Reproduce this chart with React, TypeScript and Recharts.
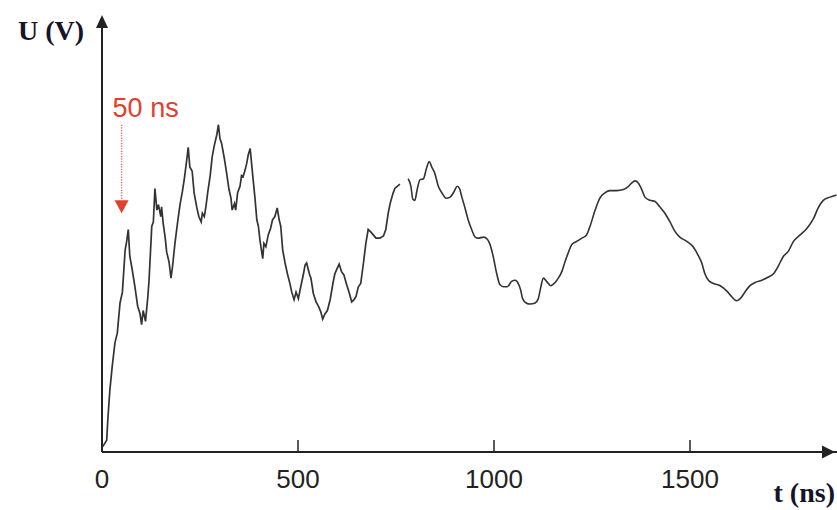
import React from 'react';
import { LineChart, Line, XAxis, YAxis, ReferenceLine, ReferenceDot } from 'recharts';

// Early, fast-sampled part of the trace (ns / V)
const noisyTimes = [
  2, 12, 15, 20, 26, 33, 39, 46, 52, 59,
  63, 67, 71, 77, 84, 91, 97, 101, 105, 111,
  117, 120, 127, 131, 135, 140, 144, 150, 152, 156,
  161, 165, 171, 176, 180, 186, 193, 199, 205, 210,
  216, 220, 224, 230, 235, 242, 247, 253, 256, 261,
  265, 270, 276, 281, 286, 293, 297, 301, 305, 312,
  318, 324, 329, 332, 338, 341, 346, 352, 356, 360,
  365, 369, 373, 378, 384, 390, 395, 399, 403, 410,
  413, 418, 424, 430, 435, 441, 447, 452, 456, 461,
  467, 473, 480, 484, 490, 495, 501, 507, 514, 518,
  522, 529, 533, 539, 546, 552, 558, 563, 569, 575,
  582, 589, 594, 600, 605, 611, 617, 624, 631, 637,
  643, 648, 654, 660, 667, 673, 679, 685, 692, 699,
  709, 718, 724, 730, 735, 742, 747, 753, 760,
];
const noisyVolts = [
  0.05, 0.11, 0.31, 0.57, 0.79, 1.01, 1.10, 1.38, 1.48, 1.87,
  1.95, 2.06, 1.81, 1.69, 1.53, 1.35, 1.28, 1.18, 1.31, 1.21,
  1.44, 1.59, 2.09, 2.13, 2.44, 2.24, 2.29, 2.18, 2.27, 2.12,
  1.99, 1.85, 1.76, 1.61, 1.72, 1.93, 2.13, 2.29, 2.41, 2.53,
  2.70, 2.82, 2.64, 2.60, 2.40, 2.26, 2.18, 2.13, 2.21, 2.18,
  2.27, 2.41, 2.56, 2.73, 2.83, 2.94, 3.03, 2.90, 2.86, 2.72,
  2.58, 2.43, 2.35, 2.24, 2.30, 2.24, 2.40, 2.46, 2.56, 2.55,
  2.61, 2.67, 2.75, 2.81, 2.58, 2.36, 2.15, 2.09, 1.96, 1.79,
  1.93, 1.90, 2.01, 2.07, 2.15, 2.18, 2.26, 2.15, 2.09, 1.87,
  1.75, 1.65, 1.55, 1.48, 1.41, 1.48, 1.42, 1.53, 1.65, 1.73,
  1.75, 1.65, 1.61, 1.47, 1.39, 1.35, 1.30, 1.23, 1.28, 1.31,
  1.41, 1.56, 1.65, 1.70, 1.74, 1.67, 1.64, 1.55, 1.47, 1.39,
  1.41, 1.44, 1.53, 1.56, 1.75, 1.93, 2.06, 2.04, 2.01, 1.98,
  1.98, 2.00, 2.06, 2.21, 2.30, 2.39, 2.44, 2.46, 2.48,
];

// Later, slower-sampled part of the trace (ns / V)
const smoothTimes = [
  781, 788, 793, 798, 804, 811, 820, 828, 835, 841,
  849, 858, 867, 878, 888, 898, 906, 912, 918, 926,
  934, 943, 952, 960, 973, 983, 990, 998, 1007, 1015,
  1024, 1034, 1045, 1054, 1062, 1068, 1073, 1082, 1092, 1105,
  1113, 1119, 1126, 1134, 1145, 1156, 1164, 1173, 1181, 1190,
  1198, 1211, 1224, 1236, 1245, 1258, 1270, 1283, 1296, 1313,
  1330, 1343, 1351, 1360, 1368, 1377, 1385, 1398, 1411, 1423,
  1436, 1449, 1462, 1474, 1492, 1508, 1521, 1530, 1538, 1547,
  1560, 1577, 1594, 1606, 1619, 1628, 1640, 1653, 1666, 1683,
  1700, 1713, 1725, 1738, 1751, 1764, 1781, 1798, 1815, 1827,
  1840, 1857, 1874,
];
const smoothVolts = [
  2.53, 2.46, 2.34, 2.33, 2.43, 2.52, 2.53, 2.63, 2.69, 2.64,
  2.58, 2.46, 2.40, 2.35, 2.36, 2.41, 2.46, 2.44, 2.36, 2.26,
  2.15, 2.06, 1.99, 1.98, 1.99, 1.97, 1.92, 1.81, 1.65, 1.55,
  1.53, 1.53, 1.58, 1.59, 1.56, 1.50, 1.42, 1.38, 1.37, 1.38,
  1.42, 1.52, 1.61, 1.58, 1.54, 1.57, 1.61, 1.67, 1.76, 1.85,
  1.92, 1.95, 1.98, 2.01, 2.09, 2.24, 2.35, 2.40, 2.42, 2.42,
  2.43, 2.46, 2.49, 2.51, 2.49, 2.43, 2.36, 2.33, 2.32, 2.27,
  2.21, 2.13, 2.04, 1.99, 1.95, 1.90, 1.82, 1.75, 1.65, 1.59,
  1.56, 1.54, 1.49, 1.44, 1.40, 1.42, 1.48, 1.54, 1.57, 1.59,
  1.62, 1.65, 1.72, 1.81, 1.86, 1.95, 2.01, 2.07, 2.16, 2.26,
  2.33, 2.36, 2.38,
];

const timeTicks = [0, 500, 1000, 1500];
const voltTicks = [1, 2, 3];

// Annotation: first peak after the rise
const markerTime = 50;
const markerText = '50 ns';
const markerLineTop = 3.03;
const markerLineBottom = 2.33;
const markerHead = 2.27;
const markerTextLevel = 3.106;

const T_MAX = 1875;
const U_MAX = 4;

type Row = { t: number; a?: number | null; b?: number | null };

const data: Row[] = [
  ...noisyTimes.map((t, i) => ({ t, a: noisyVolts[i], b: null })),
  ...smoothTimes.map((t, i) => ({ t, a: null, b: smoothVolts[i] })),
];

const AXIS = '#222';
const TRACE = '#333';
const RED = '#e2402c';
const serif = '"Liberation Serif", "Times New Roman", serif';
const sans = '"Liberation Sans", Arial, sans-serif';

const UpArrow = (p: any) => (
  <polygon points={`${p.cx},${p.cy - 5} ${p.cx - 6},${p.cy + 8} ${p.cx + 6},${p.cy + 8}`} fill={AXIS} />
);
const RightArrow = (p: any) => (
  <polygon points={`${p.cx - 2},${p.cy} ${p.cx - 15},${p.cy - 6.5} ${p.cx - 15},${p.cy + 6.5}`} fill={AXIS} />
);
const DownMarker = (p: any) => (
  <polygon points={`${p.cx - 7},${p.cy - 6.5} ${p.cx + 7},${p.cy - 6.5} ${p.cx},${p.cy + 6.5}`} fill={RED} />
);
const MarkerLabel = (p: any) => (
  <text x={p.cx - 9} y={p.cy} fill={RED} fontFamily={sans} fontSize={27}>
    {markerText}
  </text>
);

const YTitle = (props: any) => {
  const vb = props.viewBox || { x: 42, y: 20, width: 60 };
  return (
    <text x={vb.x + vb.width - 18} y={vb.y + 20} textAnchor="end" fontFamily={serif} fontWeight="bold" fontSize={28} fill="#14142a">
      U (V)
    </text>
  );
};
const XTitle = (props: any) => {
  const vb = props.viewBox || { x: 102, y: 452, width: 735 };
  return (
    <text x={vb.x + vb.width - 2} y={vb.y + 50} textAnchor="end" fontFamily={serif} fontWeight="bold" fontSize={28} fill="#14142a">
      t (ns)
    </text>
  );
};

export default function App() {
  return (
    <div style={{ position: 'absolute', left: 0, top: 0, width: 837, height: 510, background: '#fff' }}>
      <LineChart width={837} height={510} data={data} margin={{ top: 20, right: 0, bottom: 28, left: 42 }}>
        <XAxis
          dataKey="t"
          type="number"
          domain={[0, T_MAX]}
          ticks={timeTicks}
          interval={0}
          height={30}
          allowDataOverflow
          axisLine={{ stroke: AXIS, strokeWidth: 2 }}
          tickLine={{ stroke: AXIS, strokeWidth: 1.5 }}
          tickSize={-12}
          tickMargin={30}
          tick={{ fill: '#222', fontFamily: sans, fontSize: 26 }}
          label={{ content: XTitle }}
        />
        <YAxis
          type="number"
          domain={[0, U_MAX]}
          ticks={voltTicks}
          width={60}
          allowDataOverflow
          axisLine={{ stroke: AXIS, strokeWidth: 2 }}
          tickLine={{ stroke: AXIS, strokeWidth: 1.5 }}
          tickSize={-5}
          tick={false}
          label={{ content: YTitle }}
        />
        <ReferenceDot x={0} y={U_MAX} ifOverflow="visible" shape={UpArrow} />
        <ReferenceDot x={T_MAX} y={0} ifOverflow="visible" shape={RightArrow} />
        <Line
          dataKey="a"
          type="linear"
          stroke={TRACE}
          strokeWidth={1.7}
          dot={false}
          isAnimationActive={false}
        />
        <Line
          dataKey="b"
          type="monotone"
          stroke={TRACE}
          strokeWidth={1.6}
          dot={false}
          isAnimationActive={false}
        />
        <ReferenceLine
          segment={[{ x: markerTime, y: markerLineTop }, { x: markerTime, y: markerLineBottom }]}
          stroke="#ec6a5c"
          strokeWidth={1.5}
          strokeDasharray="1.2 1.4"
          ifOverflow="visible"
        />
        <ReferenceDot x={markerTime} y={markerHead} ifOverflow="visible" shape={DownMarker} />
        <ReferenceDot x={markerTime} y={markerTextLevel} ifOverflow="visible" shape={MarkerLabel} />
      </LineChart>
    </div>
  );
}
